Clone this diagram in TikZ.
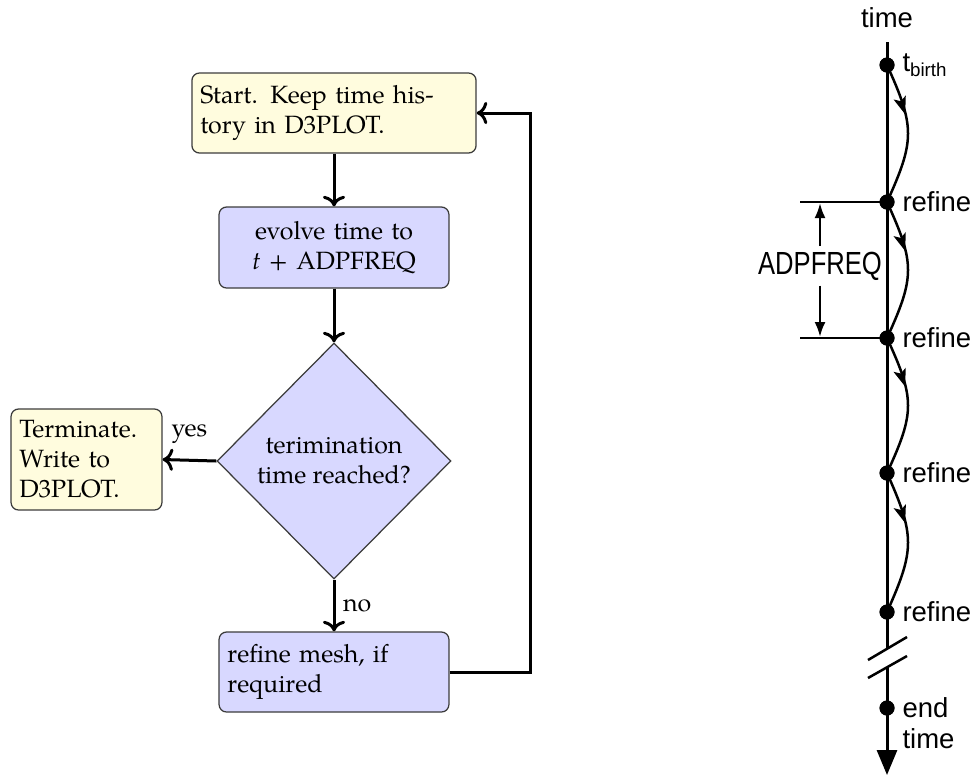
\documentclass[tikz,border=0pt]{standalone}
\usepackage{fontspec}
\setmainfont{TeX Gyre Pagella}
\newfontfamily\helv{Liberation Sans}
\usepackage{graphicx}
\usetikzlibrary{shapes.geometric,arrows.meta,decorations.markings}

\definecolor{boxyellow}{RGB}{255,252,222}
\definecolor{boxblue}{RGB}{216,216,255}
\definecolor{boxborder}{RGB}{60,60,60}

\tikzset{
  box/.style={draw=boxborder, line width=0.5pt, rounded corners=3pt, inner sep=3.33pt,
              font=\fontsize{10}{12}\selectfont},
  startbox/.style={box, fill=boxyellow},
  procbox/.style={box, fill=boxblue},
  decbox/.style={draw=boxborder, line width=0.5pt, fill=boxblue, diamond, aspect=1,
              inner sep=0pt, minimum width=93.6pt, minimum height=94.4pt, align=center,
              font=\fontsize{10}{12}\selectfont},
  flow/.style={line width=1.2pt, -{To}},
  flowlab/.style={font=\fontsize{10}{12}\selectfont, inner sep=1pt},
  axisline/.style={line width=1.2pt},
  thinline/.style={line width=1pt},
  dimarrow/.style={line width=1pt, -{Latex[length=6pt,width=4.4pt]}},
  dot/.style={circle, fill=black, inner sep=0pt, minimum size=6pt},
  rlab/.style={font=\helv\fontsize{11}{12.4}\selectfont, inner sep=0pt},
  hop/.style={line width=1pt, postaction={decorate},
     decoration={markings, mark=at position 0.36 with {\arrow{Stealth[length=7pt,width=5pt,inset=1.5pt]}}}}
}

\begin{document}
\begin{tikzpicture}[x=0.4pt,y=-0.4pt]
\useasboundingbox (0,0) rectangle (973,776);

% ---------- flowchart ----------
\node[startbox, text width=107pt, minimum height=32pt, align=left] (start) at (334,113)
  {Start. Keep time his-\\tory in D3PLOT.};
\node[procbox, text width=85.3pt, minimum height=32.4pt, align=center] (evolve) at (334,247.5)
  {evolve time to\\{\itshape t} + ADPFREQ};
\node[decbox] (dec) at (334,461) {terimination\\time reached?};
\node[startbox, text width=53.7pt, minimum height=40.4pt, align=left] (term) at (86.5,459.5)
  {Terminate.\\Write to\\D3PLOT.};
\node[procbox, text width=85.3pt, minimum height=32pt, align=left] (refine) at (334,672)
  {refine mesh, if\\required};

\draw[flow] (start) -- (evolve);
\draw[flow] (evolve) -- (dec);
\draw[flow] (dec.west) -- node[flowlab, above=5pt] (yes) {yes} (term.east);
\draw[flow] (dec.south) -- node[flowlab, right=2pt] (no) {no} (refine.north);
\draw[flow] (refine.east) -- ++(81,0) |- (start.east);

% ---------- time line ----------
\coordinate (top) at (887,42);
\coordinate (brk1) at (887,649);
\coordinate (brk2) at (887,667);
\coordinate (bot) at (887,775);

\node[dot] (d0) at (887,65) {};
\node[dot] (d1) at (887,202) {};
\node[dot] (d2) at (887,338) {};
\node[dot] (d3) at (887,473) {};
\node[dot] (d4) at (887,612) {};
\node[dot] (d5) at (887,708) {};

\draw[axisline] (top) -- (brk1);
\draw[axisline, -{Triangle[length=10pt,width=8pt]}] (brk2) -- (bot);

\coordinate (s1a) at (868,660); \coordinate (s1b) at (907,637);
\coordinate (s2a) at (868,678); \coordinate (s2b) at (907,656);
\draw[thinline] (s1a) -- (s1b);
\draw[thinline] (s2a) -- (s2b);

% each hop: first part ends in an arrow tip, second part continues to next dot
\foreach \a/\b/\ya/\yb in {d0/d1/65/202, d1/d2/202/338, d2/d3/338/473, d3/d4/473/612}{
  \pgfmathsetmacro{\hh}{\yb-\ya}
  \pgfmathsetmacro{\ca}{\ya+0.45*\hh}
  \pgfmathsetmacro{\cb}{\yb-0.45*\hh}
  \draw[line width=1pt] (\a.center) .. controls (915,\ca) and (915,\cb) .. (\b.center);
  \pgfmathsetmacro{\ta}{\ya+0.30*\hh}
  \pgfmathsetmacro{\tb}{\ya+0.36*\hh}
  \coordinate (tipA) at (902.5,\ta);
  \coordinate (tipB) at (905.2,\tb);
  \draw[line width=1pt, -{Stealth[length=7pt,width=5pt,inset=1.5pt]}] (tipA) -- (tipB);
}

\foreach \n in {d0,d1,d2,d3,d4,d5} \node[dot] at (\n) {};

\node[rlab, anchor=base] (tlab) at (887,27) {time};
\node[rlab, anchor=west] (l0) at (902,65) {t{\fontsize{7.5}{8}\selectfont\raisebox{-2.2pt}{birth}}};
\node[rlab, anchor=west] (l1) at (902,202) {refine};
\node[rlab, anchor=west] (l2) at (902,338) {refine};
\node[rlab, anchor=west] (l3) at (902,473) {refine};
\node[rlab, anchor=west] (l4) at (902,612) {refine};
\node[rlab, anchor=north west, align=left] (l5) at (902,697) {end\\time};

% ---------- ADPFREQ dimension ----------
\coordinate (h1) at (800,202);
\coordinate (h2) at (800,338);
\draw[thinline] (h1) -- (d1.center);
\draw[thinline] (h2) -- (d2.center);
\node[font=\helv\fontsize{12.8}{14}\selectfont, inner sep=2pt, anchor=base] (adp) at (820,274)
  {\scalebox{0.8}[1]{ADPFREQ}};
\coordinate (a1) at (820,203);
\coordinate (a2) at (820,337);
\draw[dimarrow] (adp.north) -- (a1);
\draw[dimarrow] (adp.south) -- (a2);
\end{tikzpicture}
\end{document}
